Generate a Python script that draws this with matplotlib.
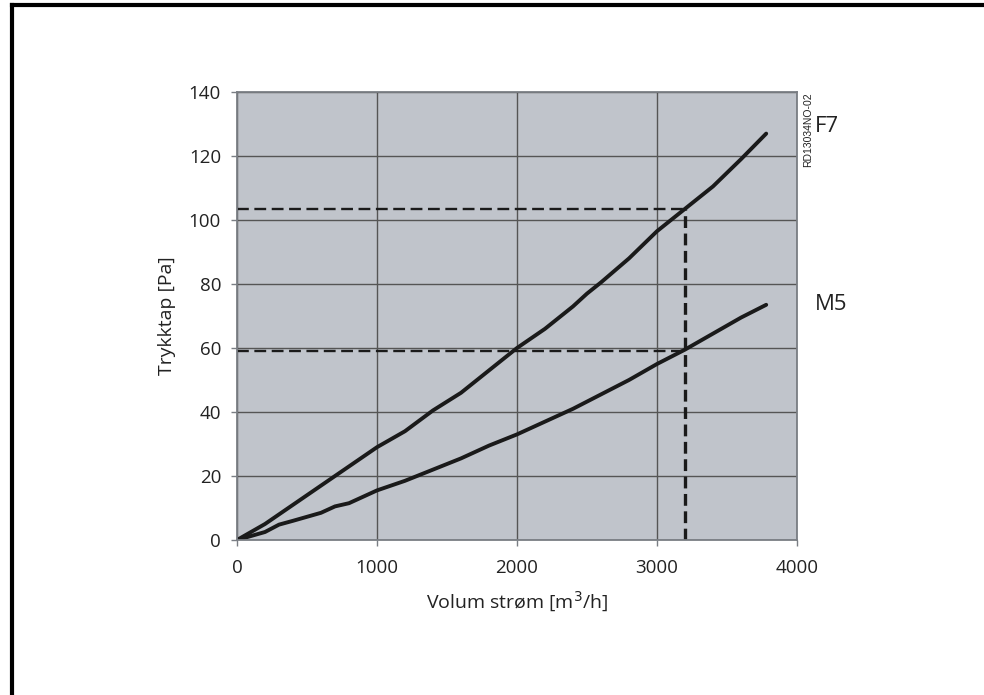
import matplotlib
matplotlib.use("Agg")
import matplotlib.pyplot as plt
from matplotlib.lines import Line2D

plt.rcParams['font.family'] = ['Open Sans', 'DejaVu Sans']
plt.rcParams['lines.scale_dashes'] = False

# Data
f7_x = [0, 200, 400, 600, 800, 1000, 1200, 1400, 1600, 1800, 2000, 2200, 2400, 2500,
        2600, 2800, 3000, 3200, 3400, 3600, 3780]
f7_y = [0, 5, 11, 17, 23, 29, 34, 40.5, 46, 53, 60, 66, 73, 77,
        80.5, 88, 96.5, 103.5, 110.5, 119, 127]
m5_x = [0, 200, 300, 400, 600, 700, 800, 900, 1000, 1200, 1400, 1600, 1800, 2000,
        2200, 2400, 2600, 2800, 3000, 3200, 3400, 3600, 3780]
m5_y = [0, 2.5, 4.8, 6, 8.5, 10.5, 11.5, 13.5, 15.5, 18.5, 22, 25.5, 29.5, 33,
        37, 41, 45.5, 50, 55, 59.5, 64.5, 69.5, 73.5]
op_flow = 3200
op_f7 = 103.5
op_m5 = 59
series_labels = ["F7", "M5"]
x_ticks = [0, 1000, 2000, 3000, 4000]
y_ticks = [0, 20, 40, 60, 80, 100, 120, 140]

fig = plt.figure(figsize=(9.84, 6.95), dpi=100)
ax = fig.add_axes([237/984, 1-540/695, (797-237)/984, (540-92)/695])
ax.set_facecolor('#c0c4cb')
ax.set_xlim(0, 4000)
ax.set_ylim(0, 140)
ax.set_xticks(x_ticks)
ax.set_yticks(y_ticks)
ax.grid(True, color='#555555', linewidth=1.0)
ax.set_axisbelow(True)
for s in ax.spines.values():
    s.set_color('#7a7e84')
    s.set_linewidth(1.3)
ax.tick_params(direction='out', length=4.5, width=1, color='#7a7e84',
               labelsize=13.5, labelcolor='#222222')
ax.tick_params(axis='x', pad=9)
ax.tick_params(axis='y', pad=7)

ax.plot(f7_x, f7_y, color='#1a1a1a', linewidth=2.8, solid_capstyle='round')
ax.plot(m5_x, m5_y, color='#1a1a1a', linewidth=2.8, solid_capstyle='round')

ax.plot([0, op_flow], [op_f7, op_f7], color='#1a1a1a', linewidth=1.7, dashes=(8.5, 4))
ax.plot([0, op_flow], [op_m5, op_m5], color='#1a1a1a', linewidth=1.7, dashes=(8.5, 4))
ax.plot([op_flow, op_flow], [0, op_f7], color='#1a1a1a', linewidth=2.4, dashes=(8.5, 4))

ax.set_xlabel('Volum strøm [m$^3$/h]', fontsize=14, labelpad=9, color='#222222')
ax.set_ylabel('Trykktap [Pa]', fontsize=14, labelpad=9, color='#222222')

fig.text(815/984, 1-127/695, series_labels[0], fontsize=16, va='center', ha='left', color='#222222')
fig.text(815/984, 1-305/695, series_labels[1], fontsize=16, va='center', ha='left', color='#222222')
fig.text(808/984, 1-92/695, 'RD13034NO-02', fontsize=7.5, rotation=90, va='top', ha='center',
         color='#222222', family=['Liberation Sans', 'DejaVu Sans'])

# outer frame (left and top edges visible)
fig.add_artist(Line2D([11.5/984, 11.5/984], [0, 1-5.3/695], color='black', linewidth=3,
                      transform=fig.transFigure, solid_capstyle='projecting'))
fig.add_artist(Line2D([11.5/984, 1], [1-5.3/695, 1-5.3/695], color='black', linewidth=3,
                      transform=fig.transFigure, solid_capstyle='projecting'))

fig.savefig('out.png', dpi=100)
